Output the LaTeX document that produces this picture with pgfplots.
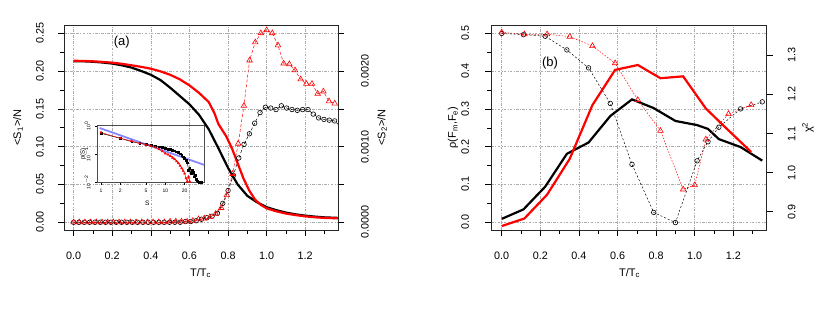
\documentclass[border=0pt]{standalone}
\usepackage{fontspec}
\setmainfont{Liberation Sans}
\usepackage{pgfplots}
\pgfplotsset{compat=1.18}
\definecolor{rred}{RGB}{255,0,0}
\definecolor{rblue}{RGB}{105,105,255}
\newcommand{\lbl}{\fontsize{11}{13}\selectfont}
\pgfplotsset{
  rstyle/.style={
    scale only axis, anchor=south west,
    tick align=outside,
    major tick length=6pt, minor tick length=4pt,
    every tick/.style={black, line width=0.5pt},
    axis line style={line width=0.7pt, black!85},
    tick label style={font=\fontsize{10.8}{12}\selectfont, inner sep=0pt},
    /pgf/number format/assume math mode=true,
    scaled ticks=false,
    major grid style={gray!65, line width=0.5pt, dash pattern=on 2.5pt off 1.5pt on 0.7pt off 1.5pt},
    xticklabel shift=15.5pt, yticklabel shift=14pt,
  },
}
\begin{document}
\begin{tikzpicture}[x=1pt,y=1pt]
\useasboundingbox (0,0) rectangle (830,320);
% ---------------- panel (a) -----------------
\begin{axis}[rstyle,
  at={(64pt,90pt)}, width=274pt, height=205pt,
  xmin=-0.05, xmax=1.37, ymin=-0.0102, ymax=0.2608,
  xtick={0,0.2,0.4,0.6,0.8,1.0,1.2}, minor xtick={0.1,0.3,0.5,0.7,0.9,1.1,1.3},
  ytick={0,0.05,0.1,0.15,0.2,0.25}, minor ytick={0.025,0.075,0.125,0.175,0.225},
  xtick pos=bottom, ytick pos=left, grid=major,
  xticklabel style={anchor=north, /pgf/number format/.cd, fixed, fixed zerofill, precision=1},
  yticklabel style={rotate=90, anchor=south, /pgf/number format/.cd, fixed, fixed zerofill, precision=2},
  xlabel={T/T\textsubscript{c}}, ylabel={\textless S\textsubscript{1}\textgreater/N},
  every axis x label/.style={at={(axis description cs:0.498,-0.21)}, anchor=center, font=\lbl},
  every axis y label/.style={at={(axis description cs:-0.168,0.5)}, rotate=90, anchor=center, font=\lbl},
]
\addplot[black, line width=2.2pt] coordinates {
(0.00,0.2130)(0.05,0.2128)(0.10,0.2122)(0.15,0.2112)(0.20,0.2098)(0.25,0.2075)(0.30,0.2045)
(0.35,0.2000)(0.40,0.1950)(0.45,0.1880)(0.50,0.1780)(0.55,0.1670)(0.60,0.1560)(0.65,0.1420)
(0.70,0.1230)(0.75,0.0980)(0.80,0.0720)(0.85,0.0500)(0.90,0.0350)(0.95,0.0265)(1.00,0.0200)
(1.05,0.0160)(1.10,0.0128)(1.15,0.0105)(1.20,0.0088)(1.25,0.0075)(1.30,0.0065)(1.37,0.0058)};
\addplot[rred, line width=2.2pt] coordinates {
(0.00,0.2135)(0.05,0.2133)(0.10,0.2128)(0.15,0.2120)(0.20,0.2110)(0.25,0.2095)(0.30,0.2075)
(0.35,0.2055)(0.40,0.2030)(0.45,0.1995)(0.50,0.1950)(0.55,0.1890)(0.60,0.1810)(0.65,0.1710)
(0.70,0.1590)(0.73,0.1440)(0.75,0.1300)(0.77,0.1220)(0.79,0.1140)(0.82,0.0980)(0.85,0.0780)
(0.88,0.0580)(0.91,0.0420)(0.94,0.0300)(0.97,0.0230)(1.00,0.0185)(1.05,0.0145)(1.10,0.0115)
(1.15,0.0095)(1.20,0.0078)(1.25,0.0066)(1.30,0.0058)(1.37,0.0052)};
\end{axis}
\begin{axis}[rstyle,
  at={(64pt,90pt)}, width=274pt, height=205pt,
  xmin=-0.05, xmax=1.37, ymin=-0.000102, ymax=0.002608,
  axis x line=none, axis y line*=right, ytick pos=right,
  ytick={0,0.0005,0.001,0.0015,0.002,0.0025},
  yticklabels={0.0000,,0.0010,,0.0020,},
  yticklabel shift=17pt,
  yticklabel style={rotate=90, anchor=north},
  ylabel={\textless S\textsubscript{2}\textgreater/N},
  every axis y label/.style={at={(axis description cs:1.161,0.5)}, rotate=90, anchor=center, font=\lbl},
]
\addplot[black, line width=0.5pt, dash pattern=on 3pt off 2pt, mark=o, mark size=2.3pt,
  mark options={solid, line width=0.6pt}] coordinates {
(0.0000,0)(0.0276,0)(0.0552,0)(0.0828,0)(0.1104,0)(0.1380,0)(0.1656,0)(0.1932,0)(0.2208,0)
(0.2484,0)(0.2760,0)(0.3036,0)(0.3312,0)(0.3588,0)(0.3864,0)(0.4140,0)(0.4416,0)(0.4692,0)
(0.4968,0)(0.5244,0)(0.5520,0)(0.5796,0.00001)(0.6072,0.00001)(0.6348,0.00002)(0.6624,0.00004)
(0.6900,0.00006)(0.7176,0.00008)(0.7452,0.00012)(0.7728,0.00025)(0.8004,0.00042)(0.8280,0.00062)
(0.8556,0.00085)(0.8832,0.00103)(0.9108,0.00117)(0.9384,0.00131)(0.9660,0.00145)(0.9936,0.00152)
(1.0212,0.00151)(1.0488,0.00149)(1.0764,0.00154)(1.1040,0.00151)(1.1316,0.00149)(1.1592,0.00148)
(1.1868,0.00149)(1.2144,0.00149)(1.2420,0.00143)(1.2696,0.00138)(1.2972,0.00136)(1.3248,0.00135)
(1.3524,0.00134)(1.3800,0.00127)};
\addplot[rred, line width=0.5pt, dash pattern=on 3pt off 2pt, mark=triangle, mark size=3.2pt,
  mark options={solid, line width=0.6pt}] coordinates {
(0.0000,0)(0.0294,0)(0.0588,0)(0.0882,0)(0.1176,0)(0.1471,0)(0.1765,0)(0.2059,0)(0.2353,0)
(0.2647,0)(0.2941,0)(0.3235,0)(0.3529,0)(0.3824,0)(0.4118,0)(0.4412,0)(0.4706,0)(0.5000,0.00001)
(0.5294,0.00001)(0.5588,0.00001)(0.5882,0.00001)(0.6176,0.00002)(0.6471,0.00004)(0.6765,0.00005)
(0.7059,0.00007)(0.7353,0.00011)(0.7647,0.00019)(0.7941,0.00036)(0.8235,0.00064)(0.8529,0.00104)
(0.8824,0.00154)(0.9118,0.00214)(0.9412,0.00238)(0.9706,0.00250)(1.0000,0.00254)(1.0294,0.00250)
(1.0588,0.00234)(1.0882,0.00210)(1.1176,0.00209)(1.1471,0.00201)(1.1765,0.00189)(1.2059,0.00183)
(1.2353,0.00183)(1.2647,0.00170)(1.2941,0.00173)(1.3235,0.00160)(1.3529,0.00157)};
\end{axis}
% inset
\begin{axis}[scale only axis, anchor=south west,
  at={(97.5pt,137.5pt)}, width=106.5pt, height=57.5pt,
  xmode=log, ymode=log, xmin=0.882, xmax=40, ymin=0.0096, ymax=1.086,
  xminorticks=false, yminorticks=false,
  xtick={1,2,5,10,20}, xticklabels={1,2,5,10,20},
  ytick={0.01,0.1,1}, yticklabels={10\textsuperscript{$-$2},10\textsuperscript{$-$1},10\textsuperscript{0}},
  xtick pos=bottom, ytick pos=left,
  tick align=outside, major tick length=2.5pt,
  every tick/.style={black, line width=0.4pt},
  axis line style={gray!60!black, line width=0.7pt},
  tick label style={font=\fontsize{5}{6}\selectfont, inner sep=0pt},
  xticklabel shift=4pt, yticklabel shift=4.5pt,
  xticklabel style={anchor=north},
  yticklabel style={rotate=90, anchor=south},
  xlabel={S}, ylabel={p(S)},
  every axis x label/.style={at={(axis description cs:0.468,-0.36)}, anchor=center, font=\fontsize{6.5}{7}\selectfont},
  every axis y label/.style={at={(axis description cs:-0.135,0.5)}, rotate=90, anchor=center, font=\fontsize{6}{7}\selectfont},
]
\addplot[rblue, opacity=0.8, line width=1.8pt] coordinates {(0.95,0.85)(40,0.041)};
\addplot[black, line width=0.5pt, mark=square*, mark size=0.9pt] coordinates {
(1,0.55)(2,0.363)(3,0.275)(4,0.24)(5,0.224)(6,0.204)(7,0.193)(8,0.183)(9,0.173)(10,0.158)
(11,0.148)(12,0.143)(13,0.135)(14,0.13)(15,0.12)(16,0.115)(17,0.102)(18,0.091)(19,0.080)
(20,0.071)(21,0.058)(22,0.049)(23,0.027)(24,0.031)(25,0.020)(26,0.027)(27,0.023)(28,0.0155)
(29,0.0178)(30,0.0126)(31,0.011)(32,0.0102)(34,0.0098)(36,0.0097)};
\addplot[rred, line width=0.5pt, mark=triangle*, mark size=1.2pt] coordinates {
(1,0.59)(2,0.363)(3,0.291)(4,0.24)(5,0.215)(6,0.193)(7,0.173)(8,0.148)(9,0.124)(10,0.105)
(11,0.095)(12,0.085)(13,0.074)(14,0.065)(15,0.055)(16,0.047)(17,0.038)(18,0.031)(19,0.025)
(20,0.020)(21,0.0135)(22,0.0105)(23,0.0155)(24,0.0105)};
\end{axis}
\node[font=\fontsize{13}{15}\selectfont] at (121.7,278.3) {(a)};
% ---------------- panel (b) -----------------
\begin{axis}[rstyle,
  at={(491.3pt,90pt)}, width=275.4pt, height=204.7pt,
  xmin=-0.054, xmax=1.373, ymin=-0.0204, ymax=0.521,
  xtick={0,0.2,0.4,0.6,0.8,1.0,1.2}, minor xtick={0.1,0.3,0.5,0.7,0.9,1.1,1.3},
  ytick={0,0.1,0.2,0.3,0.4,0.5}, minor ytick={0.05,0.15,0.25,0.35,0.45},
  xtick pos=bottom, ytick pos=left, grid=major,
  yticklabel shift=16pt,
  xticklabel style={anchor=north, /pgf/number format/.cd, fixed, fixed zerofill, precision=1},
  yticklabel style={rotate=90, anchor=south, /pgf/number format/.cd, fixed, fixed zerofill, precision=1},
  xlabel={T/T\textsubscript{c}}, ylabel={ρ(F\textsubscript{m},F\textsubscript{e})},
  every axis x label/.style={at={(axis description cs:0.502,-0.21)}, anchor=center, font=\lbl},
  every axis y label/.style={at={(axis description cs:-0.139,0.5)}, rotate=90, anchor=center, font=\lbl},
]
\addplot[black, line width=2.2pt] coordinates {
(0,0.009)(0.1125,0.034)(0.225,0.094)(0.3375,0.181)(0.45,0.211)(0.5625,0.281)(0.675,0.325)
(0.7875,0.302)(0.9,0.268)(1.0125,0.257)(1.06875,0.247)(1.125,0.220)(1.2375,0.199)(1.35,0.163)};
\addplot[rred, line width=2.2pt] coordinates {
(0,-0.010)(0.1175,0.010)(0.235,0.073)(0.3525,0.168)(0.47,0.310)(0.5875,0.403)(0.705,0.416)
(0.8225,0.381)(0.94,0.386)(1.0575,0.301)(1.175,0.243)(1.2925,0.186)};
\end{axis}
\begin{axis}[rstyle,
  at={(491.3pt,90pt)}, width=275.4pt, height=204.7pt,
  xmin=-0.054, xmax=1.373, ymin=0.853, ymax=1.377,
  axis x line=none, axis y line*=right, ytick pos=right,
  ytick={0.9,1.0,1.1,1.2,1.3},
  yticklabel shift=15pt,
  yticklabel style={rotate=90, anchor=north, /pgf/number format/.cd, fixed, fixed zerofill, precision=1},
  ylabel={χ\textsuperscript{2}},
  every axis y label/.style={at={(axis description cs:1.150,0.5)}, rotate=90, anchor=center, font=\lbl},
]
\addplot[black, line width=0.5pt, dash pattern=on 2pt off 2pt, mark=o, mark size=2.3pt,
  mark options={solid, line width=0.6pt}] coordinates {
(0,1.356)(0.1125,1.353)(0.225,1.349)(0.3375,1.314)(0.45,1.268)(0.5625,1.177)(0.675,1.021)
(0.7875,0.898)(0.9,0.872)(1.0125,1.030)(1.06875,1.079)(1.125,1.116)(1.2375,1.163)(1.35,1.181)};
\addplot[rred, line width=0.5pt, dash pattern=on 1.5pt off 1.5pt, mark=triangle, mark size=3.2pt,
  mark options={solid, line width=0.6pt}] coordinates {
(0,1.359)(0.1175,1.354)(0.235,1.354)(0.3525,1.348)(0.47,1.324)(0.5875,1.280)(0.705,1.186)
(0.8225,1.107)(0.94,0.957)(1.0,0.968)(1.0575,1.085)(1.175,1.150)(1.2925,1.173)};
\end{axis}
\node[font=\fontsize{13}{15}\selectfont] at (550,256.7) {(b)};
\end{tikzpicture}
\end{document}
